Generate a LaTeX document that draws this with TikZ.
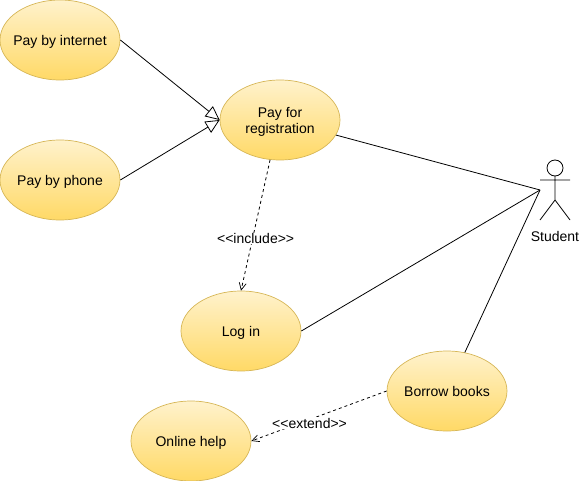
\documentclass[tikz,border=0pt]{standalone}
\usepackage{fontspec}
\setmainfont{Liberation Sans}
\usetikzlibrary{arrows.meta,shapes.geometric}
\definecolor{uctop}{HTML}{FFF2CC}
\definecolor{ucbot}{HTML}{FFD966}
\definecolor{ucline}{HTML}{D6B656}
\newcommand{\ucstrut}{\rule[-3.5pt]{0pt}{18pt}}
\tikzset{
  usecase/.style={ellipse,draw=ucline,line width=0.7pt,top color=uctop,bottom color=ucbot,
    minimum width=120pt,minimum height=80pt,inner xsep=-25pt,inner ysep=-5pt,align=center,
    font=\fontsize{14}{16}\selectfont,text=black},
  conn/.style={line width=0.8pt,draw=black},
  gen/.style={conn,-{Triangle[open,length=14pt,width=13pt,fill=white]}},
  dep/.style={conn,dashed,dash pattern=on 3pt off 3pt,-{Straight Barb[length=7pt,width=7pt,line width=0.7pt]}},
  deplabel/.style={fill=white,inner sep=0.5pt,font=\fontsize{14}{16}\selectfont},
  actorline/.style={line width=0.8pt,draw=black}
}
\begin{document}
\begin{tikzpicture}[x=1pt,y=-1pt]
\useasboundingbox (0,0) rectangle (580,481);
\node[usecase] (internet) at (60,40) {\ucstrut Pay by internet};
\node[usecase] (phone) at (60,180) {\ucstrut Pay by phone};
\node[usecase] (reg) at (280,120) {\ucstrut Pay for\\\rule[-3.5pt]{0pt}{14pt}registration};
\node[usecase] (login) at (241,331) {\ucstrut Log in};
\node[usecase] (borrow) at (447,391) {\ucstrut Borrow books};
\node[usecase] (help) at (191,441) {\ucstrut Online help};
% actor
\coordinate (hub) at (540,190);
\draw[actorline] (555,168) circle (8pt);
\draw[actorline] (555,176) -- (555,200) (540,180) -- (570,180) (540,220) -- (555,200) -- (570,220);
\node[font=\fontsize{14}{16}\selectfont] (student) at (555,236) {Student};
% connectors
\draw[gen] (internet.east) -- (reg.west);
\draw[gen] (phone.east) -- (reg.west);
\draw[conn] (reg) -- (hub);
\draw[conn] (login.east) -- (hub);
\draw[conn] (borrow) -- (hub);
\draw[dep] (reg.256) -- node[deplabel,pos=0.6,xshift=3pt] (inc) {<{}<include>{}>} (login.north);
\draw[dep] (borrow.west) -- node[deplabel,pos=0.57,yshift=-3.5pt] (ext) {<{}<extend>{}>} (help.east);
\end{tikzpicture}
\end{document}
